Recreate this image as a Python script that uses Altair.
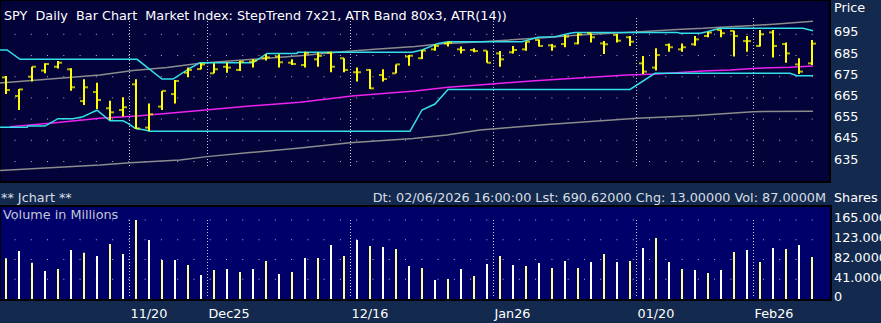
import altair as alt
import pandas as pd

W, H = 881, 323

# ---------------- data ----------------
opens = [674.7, 665.9, 675.0, 677.9, 679.7, 678.5, 663.5, 667.8, 660.1, 659.3,
         671.4, 651.0, 660.9, 666.8, 676.9, 678.6, 676.6, 679.7, 678.2, 682.1,
         683.7, 684.5, 681.6, 680.5, 683.2, 686.3, 683.7, 677.1, 678.2, 675.8,
         676.6, 684.5, 683.7, 687.9, 690.7, 687.9, 687.6, 687.3, 686.0, 686.5,
         687.9, 692.3, 689.8, 690.4, 690.7, 695.5, 690.7, 694.7, 693.6, 681.3,
         679.3, 690.0, 687.9, 690.3, 694.2, 697.0, 696.6, 691.8, 689.5, 695.9,
         690.4, 680.8, 681.3]
highs = [675.3, 669.2, 679.7, 681.3, 682.4, 679.0, 673.8, 672.2, 663.7, 665.3,
         673.8, 662.4, 668.3, 673.4, 679.3, 681.3, 681.3, 681.6, 682.4, 683.2,
         685.6, 685.6, 683.2, 686.8, 686.5, 686.8, 683.7, 679.3, 678.5, 678.5,
         680.8, 685.2, 687.6, 690.3, 691.5, 689.2, 688.4, 687.3, 687.1, 689.5,
         691.5, 692.6, 690.4, 694.7, 695.5, 695.5, 691.8, 695.1, 694.2, 684.8,
         688.4, 690.7, 690.7, 694.2, 696.2, 697.3, 696.7, 694.2, 697.0, 697.0,
         691.1, 683.7, 692.3]
lows = [666.8, 659.3, 672.7, 676.6, 678.9, 668.4, 661.7, 659.8, 654.6, 656.2,
        650.3, 649.4, 659.3, 662.4, 674.7, 678.5, 676.6, 676.9, 677.7, 679.3,
        682.6, 679.3, 680.5, 679.3, 679.7, 677.1, 677.1, 672.7, 669.2, 672.7,
        676.6, 680.2, 683.4, 687.3, 689.2, 686.0, 686.5, 681.6, 679.7, 686.0,
        687.3, 689.2, 687.3, 688.9, 690.3, 691.1, 685.7, 691.1, 689.5, 676.3,
        677.9, 686.8, 686.8, 689.6, 693.6, 693.6, 684.5, 686.8, 689.2, 684.1,
        681.6, 676.3, 680.5]
closes = [668.7, 669.0, 679.7, 681.0, 681.6, 670.0, 670.0, 664.0, 658.2, 660.6,
          650.6, 657.3, 668.3, 673.0, 678.2, 680.8, 678.5, 679.3, 682.1, 682.6,
          684.1, 681.8, 681.0, 686.0, 684.8, 679.7, 678.2, 677.1, 669.5, 673.9,
          680.8, 684.9, 687.3, 689.5, 691.1, 687.6, 687.1, 681.6, 683.2, 687.6,
          691.5, 689.5, 689.3, 693.9, 695.0, 693.6, 690.3, 692.0, 691.5, 677.4,
          685.2, 688.9, 688.9, 692.6, 695.8, 695.5, 694.2, 691.8, 695.0, 689.5,
          686.0, 677.4, 690.6]
volumes = [84.9, 100.3, 75.9, 58.5, 62.7, 102.3, 96.8, 89.8, 114.9, 94.0,
           165.0, 123.2, 81.5, 81.5, 71.0, 50.1, 60.6, 62.7, 56.4, 62.7,
           79.4, 52.2, 56.4, 85.6, 85.6, 112.8, 89.8, 123.2, 110.7, 108.6,
           104.4, 68.9, 64.7, 39.7, 41.8, 62.7, 48.0, 73.1, 89.8, 71.0,
           68.9, 75.2, 64.7, 79.4, 64.7, 77.3, 94.0, 77.3, 79.4, 106.5,
           127.4, 77.3, 62.7, 60.6, 54.3, 60.6, 98.2, 102.3, 77.3, 106.5,
           104.4, 112.8, 87.7]

# indicator lines: (bar position, price)
gray_up_pos = [-0.46, 7.23, 9.77, 12.38, 14.92, 19.0, 22.62, 25.85, 28.38, 31.46, 33.54,
               36.62, 40.69, 41.85, 44.38, 48.77, 51.62, 53.62, 55.69, 57.46, 59.54, 62.08]
gray_up_val = [672.0, 675.8, 677.9, 679.3, 681.4, 683.2, 684.9, 686.8, 687.9, 689.2, 690.5,
               691.5, 693.1, 693.6, 694.8, 696.2, 697.3, 697.8, 698.6, 699.1, 700.0, 701.1]
gray_lo_pos = [-0.46, 7.23, 9.54, 13.38, 15.46, 18.77, 22.62, 26.46, 31.31, 33.9, 36.46,
               39.0, 41.62, 44.15, 48.54, 52.85, 57.46, 62.08]
gray_lo_val = [630.8, 633.3, 634.4, 635.7, 637.3, 639.2, 641.4, 643.9, 645.9, 647.5, 649.9,
               651.1, 652.4, 653.5, 655.4, 656.6, 658.5, 658.7]
magenta_pos = [0.31, 3.38, 7.23, 10.31, 14.92, 18.77, 22.62, 26.62, 31.46, 34.0, 37.38,
               40.69, 44.38, 47.77, 50.08, 53.62, 55.69, 57.77, 60.31, 62.08]
magenta_val = [651.4, 653.0, 655.4, 656.6, 659.0, 661.2, 663.0, 665.9, 668.3, 670.0, 671.6,
               673.1, 674.5, 675.8, 676.3, 677.7, 678.2, 679.0, 679.4, 680.0]
cyan_up_pos = [-0.46, 0.08, 1.08, 10.08, 12.0, 12.85, 14.15, 14.92, 19.0, 20.08, 22.38,
               22.46, 31.23, 32.0, 33.23, 34.0, 39.69, 40.92, 42.23, 43.38, 43.77, 51.62,
               51.85, 53.38, 53.92, 54.92, 61.31, 62.08]
cyan_up_val = [687.6, 687.6, 683.2, 683.2, 673.9, 673.9, 679.0, 681.6, 681.6, 686.0, 686.0,
               686.5, 686.5, 687.6, 690.7, 691.5, 691.5, 693.6, 693.9, 695.5, 695.9, 695.9,
               695.5, 695.5, 696.2, 697.8, 697.8, 696.7]
cyan_lo_pos = [-0.46, 1.62, 1.69, 3.0, 4.0, 5.15, 5.92, 6.46, 7.0, 8.0, 9.0, 9.38, 9.92,
               10.69, 11.08, 31.08, 32.0, 32.46, 33.0, 34.0, 48.0, 49.92, 60.31, 60.85, 62.08]
cyan_lo_val = [651.1, 651.1, 651.7, 651.7, 655.2, 655.2, 656.1, 657.7, 659.2, 654.2, 654.2,
               653.0, 650.7, 649.9, 649.3, 649.3, 659.3, 660.6, 662.1, 669.0, 669.0, 676.6,
               676.6, 675.5, 675.5]

date_pos = [9.5, 15.5, 26.5, 37.5, 48.5, 57.5]
date_labels = ["11/20", "Dec25", "12/16", "Jan26", "01/20", "Feb26"]
price_ticks = [695, 685, 675, 665, 655, 645, 635]
vol_ticks = [165, 123.75, 82.5, 41.25, 0]
vol_tick_labels = ["165.0000", "123.0000", "82.0000", "41.0000", "0"]

title_text = "SPY\u00a0\u00a0Daily\u00a0\u00a0Bar Chart\u00a0\u00a0Market Index: StepTrend 7x21, ATR Band 80x3, ATR(14))"
info_text = "Dt: 02/06/2026 16:00:00 Lst: 690.62000 Chg: 13.00000 Vol: 87.0000M"

# ---------------- styling ----------------
FONT = "DejaVu Sans"
FS = 12.8
BG = "#132a4e"
TOP_BG = "#03033a"
VOL_BG = "#00006a"
YELLOW = "#ffff00"
CYAN = "#33e0e8"
MAGENTA = "#ee22ee"
GRAY = "#8c8c8c"

n = len(opens)
bars = pd.DataFrame({"i": list(range(n)), "o": opens, "h": highs, "l": lows, "c": closes,
                     "v": volumes,
                     "vc": ["#ffff8c" if k % 2 == 0 else "#ffffff" for k in range(n)]})

xs = alt.Scale(domain=[-6 / 13, 875 / 13], nice=False, zero=False)
yp = alt.Scale(domain=[558.82, 711.18], nice=False, zero=False)
yv = alt.Scale(domain=[-50.13, 624.48], nice=False, zero=False)

X = lambda f: alt.X(f, type="quantitative", scale=xs, axis=None)
YP = lambda f: alt.Y(f, type="quantitative", scale=yp, axis=None)
YV = lambda f: alt.Y(f, type="quantitative", scale=yv, axis=None)

one = pd.DataFrame({"a": [0]})

top_bg = alt.Chart(one).mark_rect(fill=TOP_BG, stroke="#000000", strokeWidth=2).encode(
    x=alt.value(0), x2=alt.value(830), y=alt.value(0), y2=alt.value(182))
vol_bg = alt.Chart(one).mark_rect(fill=VOL_BG, stroke="#000000", strokeWidth=2).encode(
    x=alt.value(0), x2=alt.value(831), y=alt.value(206), y2=alt.value(300))

pgrid = alt.Chart(pd.DataFrame({"p": price_ticks})).mark_rule(
    color="#b4b4c8", strokeWidth=1, strokeDash=[1, 15.27]).encode(
    x=alt.value(14.5), x2=alt.value(820), y=YP("p"))
vgrid = alt.Chart(pd.DataFrame({"v": vol_ticks[:-1]})).mark_rule(
    color="#b4b4c8", strokeWidth=1, strokeDash=[1, 15.27]).encode(
    x=alt.value(14.5), x2=alt.value(820), y=YV("v"))

dates = pd.DataFrame({"pos": date_pos, "lab": date_labels})
dline_top = alt.Chart(dates).mark_rule(color="#c8c8d8", strokeWidth=1, strokeDash=[1, 2]).encode(
    x=X("pos"), y=alt.value(18), y2=alt.value(168))
dline_vol = alt.Chart(dates).mark_rule(color="#c8c8d8", strokeWidth=1, strokeDash=[1, 2]).encode(
    x=X("pos"), y=alt.value(220), y2=alt.value(298))


def line(pos, val, color):
    df = pd.DataFrame({"pos": pos, "val": val})
    return alt.Chart(df).mark_line(color=color, strokeWidth=1.5).encode(
        x=X("pos"), y=YP("val"), order="pos:Q")


lines = [line(gray_up_pos, gray_up_val, GRAY), line(gray_lo_pos, gray_lo_val, GRAY),
         line(magenta_pos, magenta_val, MAGENTA),
         line(cyan_up_pos, cyan_up_val, CYAN), line(cyan_lo_pos, cyan_lo_val, CYAN)]

base = alt.Chart(bars)
hl = base.mark_rule(color=YELLOW, strokeWidth=2).encode(x=X("i"), y=YP("l"), y2="h")
otick = base.mark_tick(color=YELLOW, orient="horizontal", size=4, thickness=2, xOffset=-2).encode(
    x=X("i"), y=YP("o"))
ctick = base.mark_tick(color=YELLOW, orient="horizontal", size=4, thickness=2, xOffset=2).encode(
    x=X("i"), y=YP("c"))
vbars = base.mark_rule(strokeWidth=2).encode(
    x=X("i"), y=YV("v"), y2=alt.datum(0), color=alt.Color("vc:N", scale=None))


def txt(s, x, y, color="#ffffff", align="left"):
    return alt.Chart(one).mark_text(text=s, font=FONT, fontSize=FS, color=color, align=align,
                                    baseline="alphabetic").encode(x=alt.value(x), y=alt.value(y))


title = txt(title_text, 4, 20)
price_lab = txt("Price", 834, 12)
jchart = txt("** Jchart **", 1, 201.5, "#d8dde6")
info = txt(info_text, 826, 201.5, "#d8dde6", "right")
shares = txt("Shares", 834, 201.5)
vol_title = txt("Volume in Millions", 3, 218.5, "#c4c8d4")

plabels = alt.Chart(pd.DataFrame({"p": price_ticks, "t": [str(p) for p in price_ticks]})).mark_text(
    font=FONT, fontSize=FS, color="#ffffff", align="left", baseline="middle", dy=-2).encode(
    x=alt.value(834), y=YP("p"), text="t:N")
vlabels = alt.Chart(pd.DataFrame({"v": vol_ticks, "t": vol_tick_labels})).mark_text(
    font=FONT, fontSize=FS, color="#ffffff", align="left", baseline="middle", dy=-1.5).encode(
    x=alt.value(834), y=YV("v"), text="t:N")
dlabels = alt.Chart(dates).mark_text(font=FONT, fontSize=FS, color="#ffffff", align="left",
                                     baseline="alphabetic", dx=1).encode(
    x=X("pos"), y=alt.value(318), text="lab:N")

chart = alt.layer(
    top_bg, vol_bg, pgrid, vgrid, dline_top, dline_vol, *lines, hl, otick, ctick, vbars,
    title, price_lab, jchart, info, shares, vol_title, plabels, vlabels, dlabels
).resolve_scale(y="independent").properties(
    width=W, height=H, background=BG, padding=0,
    autosize=alt.AutoSizeParams(type="none")
).configure_view(strokeWidth=0)

chart.save("out.html", embed_options={"renderer": "svg", "actions": False})
